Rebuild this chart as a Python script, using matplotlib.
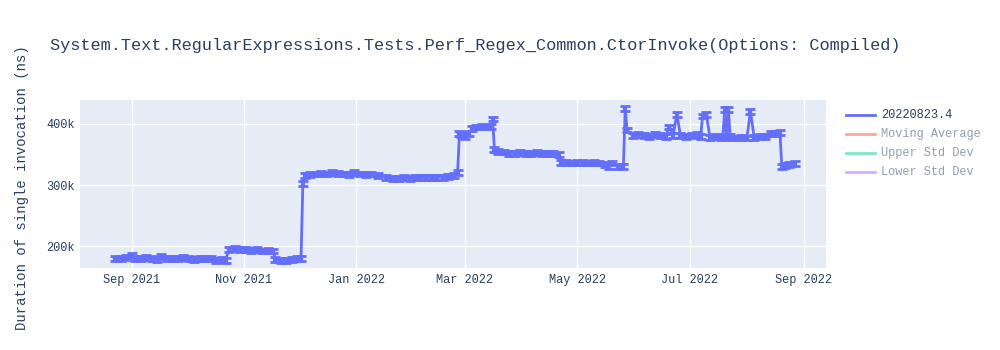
import numpy as np
import pandas as pd
import matplotlib
matplotlib.use("Agg")
import matplotlib.pyplot as plt
import matplotlib.dates as mdates
from matplotlib.ticker import FuncFormatter

# data (values in thousands of ns)
dates = [
    "2021-08-23", "2021-08-26", "2021-08-29", "2021-09-01", "2021-09-03", "2021-09-06",
    "2021-09-09", "2021-09-12", "2021-09-15", "2021-09-17", "2021-09-20", "2021-09-23",
    "2021-09-26", "2021-09-29", "2021-10-02", "2021-10-05", "2021-10-08", "2021-10-11",
    "2021-10-14", "2021-10-17", "2021-10-20", "2021-10-22", "2021-10-24", "2021-10-27",
    "2021-10-30", "2021-11-02", "2021-11-05", "2021-11-08", "2021-11-11", "2021-11-14",
    "2021-11-17", "2021-11-18", "2021-11-21", "2021-11-24", "2021-11-27", "2021-11-30",
    "2021-12-02", "2021-12-03", "2021-12-04", "2021-12-07", "2021-12-10", "2021-12-13",
    "2021-12-16", "2021-12-19", "2021-12-22", "2021-12-25", "2021-12-28", "2021-12-31",
    "2022-01-03", "2022-01-06", "2022-01-09", "2022-01-13", "2022-01-17", "2022-01-21",
    "2022-01-24", "2022-01-27", "2022-01-30", "2022-02-02", "2022-02-05", "2022-02-08",
    "2022-02-11", "2022-02-14", "2022-02-17", "2022-02-20", "2022-02-23", "2022-02-25",
    "2022-02-26", "2022-02-27", "2022-03-01", "2022-03-03", "2022-03-05", "2022-03-07",
    "2022-03-10", "2022-03-13", "2022-03-15", "2022-03-16", "2022-03-17", "2022-03-19",
    "2022-03-22", "2022-03-25", "2022-03-28", "2022-03-31", "2022-04-03", "2022-04-06",
    "2022-04-09", "2022-04-12", "2022-04-15", "2022-04-18", "2022-04-21", "2022-04-22",
    "2022-04-25", "2022-04-28", "2022-05-01", "2022-05-04", "2022-05-07", "2022-05-10",
    "2022-05-13", "2022-05-16", "2022-05-18", "2022-05-20", "2022-05-23", "2022-05-26",
    "2022-05-27", "2022-05-28", "2022-05-31", "2022-06-03", "2022-06-06", "2022-06-09",
    "2022-06-12", "2022-06-15", "2022-06-18", "2022-06-20", "2022-06-22", "2022-06-24",
    "2022-06-26", "2022-06-29", "2022-07-02", "2022-07-05", "2022-07-07", "2022-07-08",
    "2022-07-10", "2022-07-12", "2022-07-15", "2022-07-18", "2022-07-19", "2022-07-20",
    "2022-07-21", "2022-07-22", "2022-07-23", "2022-07-26", "2022-07-29", "2022-08-01",
    "2022-08-03", "2022-08-05", "2022-08-08", "2022-08-11", "2022-08-14", "2022-08-17",
    "2022-08-19", "2022-08-20", "2022-08-22", "2022-08-24", "2022-08-27",
]
values = [
    180, 179, 181, 184, 180, 179,
    181, 180, 178, 183, 179, 180,
    179, 181, 180, 178, 179, 180,
    179, 177, 178, 177, 195, 196,
    194, 195, 193, 194, 192, 193,
    192, 178, 177, 177, 178, 179,
    180, 302, 315, 317, 318, 319,
    318, 320, 319, 318, 317, 321,
    318, 317, 318, 316, 313, 310,
    311, 312, 311, 312, 312, 313,
    312, 313, 313, 314, 315, 320,
    385, 383, 380, 384, 393, 395,
    396, 395, 396, 408, 358, 355,
    354, 352, 352, 353, 352, 351,
    353, 352, 351, 352, 350, 337,
    337, 336, 337, 337, 336, 337,
    336, 333, 330, 336, 331, 330,
    425, 390, 381, 382, 381, 380,
    382, 381, 380, 395, 381, 416,
    381, 380, 381, 382, 380, 413,
    416, 378, 379, 378, 380, 424,
    378, 423, 379, 377, 378, 377,
    420, 378, 379, 380, 384, 385,
    386, 330, 332, 334, 335,
]
errors = [4] * len(values)

title = "System.Text.RegularExpressions.Tests.Perf_Regex_Common.CtorInvoke(Options: Compiled)"
legend_names = ["20220823.4", "Moving Average", "Upper Std Dev", "Lower Std Dev"]
legend_colors = ["#636efa", "#ef553b", "#00cc96", "#ab63fa"]
legend_alpha = [1.0, 0.5, 0.5, 0.5]

plt.rcParams['font.family'] = ['Liberation Mono', 'DejaVu Sans Mono']

x = pd.to_datetime(dates)
y = np.array(values) * 1000
err = np.array(errors) * 1000

fig = plt.figure(figsize=(10, 3.5), dpi=100)
ax = fig.add_axes([0.08, 0.234, 0.746, 0.480])
ax.set_facecolor("#e5ecf6")
for s in ax.spines.values():
    s.set_visible(False)
ax.grid(True, color="white", linewidth=1)
ax.set_axisbelow(True)

ax.errorbar(x, y, yerr=err, color="#636efa", linewidth=2, elinewidth=3,
            capsize=3.5, capthick=2, zorder=3)

ax.set_xlim(pd.Timestamp("2021-08-04"), pd.Timestamp("2022-09-13"))
ax.set_ylim(164000, 439000)
ax.set_yticks([200000, 300000, 400000])
ax.yaxis.set_major_formatter(FuncFormatter(lambda v, p: "%dk" % (v / 1000)))
ax.xaxis.set_major_locator(mdates.MonthLocator(bymonth=[1, 3, 5, 7, 9, 11]))
ax.xaxis.set_major_formatter(mdates.DateFormatter("%b %Y"))
ax.tick_params(length=0, labelsize=8.6, labelcolor="#2a3f5f", pad=4)

fig.text(0.05, 0.871, title, fontsize=12.2, color="#2a3f5f", va="center")
fig.text(0.022, 1 - 188 / 350, "Duration of single invocation (ns)", rotation=90,
         fontsize=10, color="#2a3f5f", va="center", ha="center")

# legend drawn by hand, plotly style
for i, name in enumerate(legend_names):
    yy = 1 - (115 + 19 * i) / 350
    fig.add_artist(plt.Line2D([0.846, 0.875], [yy, yy], color=legend_colors[i],
                              linewidth=2, alpha=legend_alpha[i]))
    fig.text(0.881, yy, name, fontsize=8.6, color="#2a3f5f", va="center",
             alpha=legend_alpha[i])

fig.savefig("out.png", dpi=100)
